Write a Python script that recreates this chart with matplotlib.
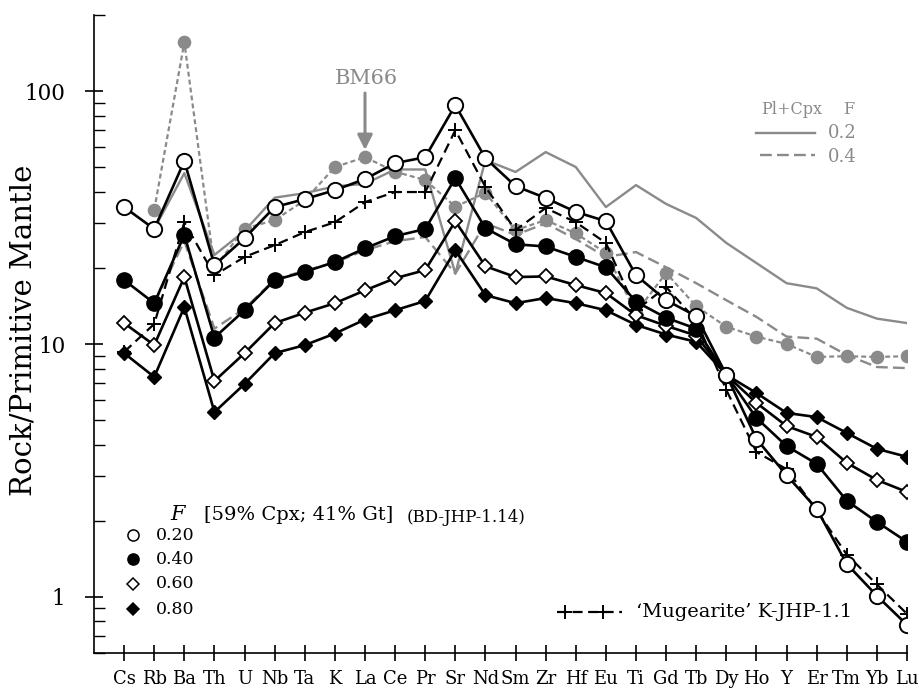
import numpy as np
import matplotlib.pyplot as plt
from matplotlib.ticker import FixedLocator, LogLocator, NullFormatter

elements = ["Cs", "Rb", "Ba", "Th", "U", "Nb", "Ta", "K", "La", "Ce", "Pr", "Sr",
            "Nd", "Sm", "Zr", "Hf", "Eu", "Ti", "Gd", "Tb", "Dy", "Ho", "Y",
            "Er", "Tm", "Yb", "Lu"]

# Modelled melts, 59% Cpx; 41% Gt source (BD-JHP-1.14)
melt_f020 = [34.8, 28.5, 52.9, 20.5, 26.2, 34.8, 37.4, 40.6, 44.9, 51.9, 54.8, 88.0,
             54.3, 42.1, 37.8, 33.3, 30.6, 18.7, 14.9, 12.9, 7.55, 4.21, 3.03,
             2.23, 1.35, 1.01, 0.775]
melt_f040 = [17.9, 14.5, 27.0, 10.6, 13.6, 17.9, 19.3, 21.1, 23.9, 26.7, 28.5, 45.3,
             28.7, 24.8, 24.3, 22.1, 20.1, 14.7, 12.7, 11.5, 7.55, 5.10, 3.95,
             3.36, 2.40, 1.98, 1.65]
melt_f060 = [12.1, 9.9, 18.4, 7.14, 9.2, 12.1, 13.3, 14.5, 16.3, 18.2, 19.6, 30.6,
             20.3, 18.4, 18.5, 17.1, 15.9, 13.0, 11.8, 10.8, 7.55, 5.85, 4.74,
             4.29, 3.39, 2.90, 2.60]
melt_f080 = [9.2, 7.41, 14.0, 5.38, 6.95, 9.2, 9.9, 11.0, 12.5, 13.6, 14.8, 23.5,
             15.6, 14.5, 15.2, 14.5, 13.6, 11.9, 10.9, 10.2, 7.55, 6.4, 5.34,
             5.14, 4.45, 3.85, 3.58]

# 'Mugearite' K-JHP-1.1
mugearite = [9.3, 12.0, 30.3, 18.7, 22.1, 24.6, 27.7, 30.3, 36.4, 39.9, 39.9, 70.1,
             41.8, 28.2, 34.5, 30.3, 25.1, 13.6, 16.8, 12.4, 6.58, 3.74, 3.2,
             2.2, 1.47, 1.12, 0.857]

# BM66 sample
bm66 = [np.nan, 33.9, 156.0, 20.0, 28.6, 30.9, 37.0, 50.1, 54.8, 48.0, 44.5, 34.9,
        39.6, 28.2, 30.9, 27.4, 22.9, 13.3, 19.1, 14.1, 11.7, 10.7, 10.0,
        8.89, 8.95, 8.89, 8.95]

# Pl+Cpx fractionation curves
plcpx_f02 = [np.nan, 28.5, 47.4, 22.5, 28.0, 37.9, 39.5, 42.0, 43.0, 49.0, 49.0, 19.0,
             53.4, 47.9, 57.4, 50.1, 34.8, 42.5, 35.8, 31.5, 25.1, 20.9, 17.4,
             16.6, 13.9, 12.6, 12.1]
plcpx_f04 = [np.nan, 14.5, 25.5, 11.5, 13.8, 18.0, 19.5, 21.0, 23.5, 25.5, 26.5, 19.0,
             30.0, 27.0, 30.0, 26.0, 22.1, 23.1, 20.1, 17.4, 14.9, 12.8, 10.7,
             10.5, 9.05, 8.11, 8.03]

plt.rcParams['font.family'] = ['DejaVu Serif']

W, H = 920, 691
fig = plt.figure(figsize=(W / 100, H / 100), dpi=100)
AX_L, AX_R, AX_T, AX_B = 94, 907, 15, 653
ax = fig.add_axes([AX_L / W, 1 - AX_B / H, (AX_R - AX_L) / W, (AX_B - AX_T) / H])


def fx(px):
    return (px - AX_L) / (AX_R - AX_L)


def fy(py):
    return (AX_B - py) / (AX_B - AX_T)


x = np.arange(1, len(elements) + 1)
gray = '#8a8a8a'

l02, = ax.plot(x, plcpx_f02, color=gray, lw=1.7, zorder=1)
l04, = ax.plot(x, plcpx_f04, color=gray, lw=1.7, zorder=1)
l04.set_dashes([5, 2.2])

lbm, = ax.plot(x, bm66, color=gray, lw=1.6, marker='o', ms=8.8, mfc=gray,
               mec=gray, zorder=2)
lbm.set_dashes([2.2, 1.4])

lmu, = ax.plot(x, mugearite, color='black', lw=1.6, marker='+', ms=10, mew=1.4,
               zorder=3)
lmu.set_dashes([4.5, 2.5])

ax.plot(x, melt_f080, color='black', lw=1.9, marker='D', ms=7.5, mfc='black',
        mec='black', zorder=4)
ax.plot(x, melt_f060, color='black', lw=1.9, marker='D', ms=7.5, mfc='white',
        mec='black', mew=1.3, zorder=5)
ax.plot(x, melt_f040, color='black', lw=1.9, marker='o', ms=11, mfc='black',
        mec='black', zorder=6)
ax.plot(x, melt_f020, color='black', lw=1.9, marker='o', ms=11, mfc='white',
        mec='black', mew=1.4, zorder=7)

ax.set_yscale('log')
ax.set_xlim(0, len(elements))
ax.set_ylim(0.6, 200)

ax.set_xticks(x)
ax.set_xticklabels(elements, fontsize=13)
ax.yaxis.set_major_locator(FixedLocator([1, 10, 100]))
ax.set_yticklabels(['1', '10', '100'], fontsize=15.5)
ax.yaxis.set_minor_locator(LogLocator(base=10, subs=np.arange(2, 10)))
ax.yaxis.set_minor_formatter(NullFormatter())

ax.tick_params(axis='x', direction='inout', length=12, width=1.2, pad=6)
ax.tick_params(axis='y', which='major', direction='inout', length=13, width=1.2, pad=14)
ax.tick_params(axis='y', which='minor', direction='in', length=8, width=1.0)

for s in ('top', 'right'):
    ax.spines[s].set_visible(False)
for s in ('left', 'bottom'):
    ax.spines[s].set_linewidth(1.2)

fig.text(24 / W, 1 - 330 / H, 'Rock/Primitive Mantle', rotation=90, fontsize=21,
         ha='center', va='center')

# BM66 label with arrow
ax.text(fx(366), fy(79), 'BM66', color=gray, fontsize=15, ha='center', va='center',
        transform=ax.transAxes)
ax.annotate('', xy=(fx(365), fy(150)), xytext=(fx(365), fy(93)),
            xycoords='axes fraction', textcoords='axes fraction',
            arrowprops=dict(arrowstyle='-|>,head_length=0.9,head_width=0.45',
                            color=gray, lw=2.2, shrinkA=0, shrinkB=0))

# Pl+Cpx key
ax.text(fx(792), fy(110), 'Pl+Cpx', color=gray, fontsize=11.5, ha='center',
        va='center', transform=ax.transAxes)
ax.text(fx(849), fy(110), 'F', color=gray, fontsize=11.5, ha='center', va='center',
        transform=ax.transAxes)
ax.plot([fx(756), fx(815)], [fy(133), fy(133)], color=gray, lw=1.7,
        transform=ax.transAxes, clip_on=False)
kd, = ax.plot([fx(760), fx(815)], [fy(155), fy(155)], color=gray, lw=1.7,
              transform=ax.transAxes, clip_on=False)
kd.set_dashes([5, 2.2])
ax.text(fx(842), fy(133), '0.2', color=gray, fontsize=13, ha='center', va='center',
        transform=ax.transAxes)
ax.text(fx(842), fy(157), '0.4', color=gray, fontsize=13, ha='center', va='center',
        transform=ax.transAxes)

# Melt key
ax.text(fx(178), fy(515), 'F', fontsize=15, style='italic', ha='center', va='center',
        transform=ax.transAxes)
ax.text(fx(204), fy(515), '[59% Cpx; 41% Gt]', fontsize=14, ha='left', va='center',
        transform=ax.transAxes)
ax.text(fx(407), fy(517), '(BD-JHP-1.14)', fontsize=12, ha='left', va='center',
        transform=ax.transAxes)
keys = [('0.20', 'o', 'white', 535), ('0.40', 'o', 'black', 559),
        ('0.60', 'D', 'white', 584), ('0.80', 'D', 'black', 609)]
for lab, mk, fc, py in keys:
    ms = 8 if mk == 'o' else 5.8
    ax.plot([fx(133)], [fy(py)], marker=mk, ms=ms, mfc=fc, mec='black', mew=1.1,
            transform=ax.transAxes, clip_on=False, ls='none')
    ax.text(fx(156), fy(py), lab, fontsize=12.5, ha='left', va='center',
            transform=ax.transAxes)

# Mugearite key
km, = ax.plot([fx(557), fx(622)], [fy(612), fy(612)], color='black', lw=1.6,
              transform=ax.transAxes, clip_on=False)
km.set_dashes([4.5, 2.5])
ax.plot([fx(565), fx(603)], [fy(612), fy(612)], ls='none', marker='+', ms=10,
        mew=1.4, color='black', transform=ax.transAxes, clip_on=False)
ax.text(fx(636), fy(612), '\u2018Mugearite\u2019 K-JHP-1.1', fontsize=14,
        ha='left', va='center', transform=ax.transAxes)

fig.savefig('out.png', dpi=100)
